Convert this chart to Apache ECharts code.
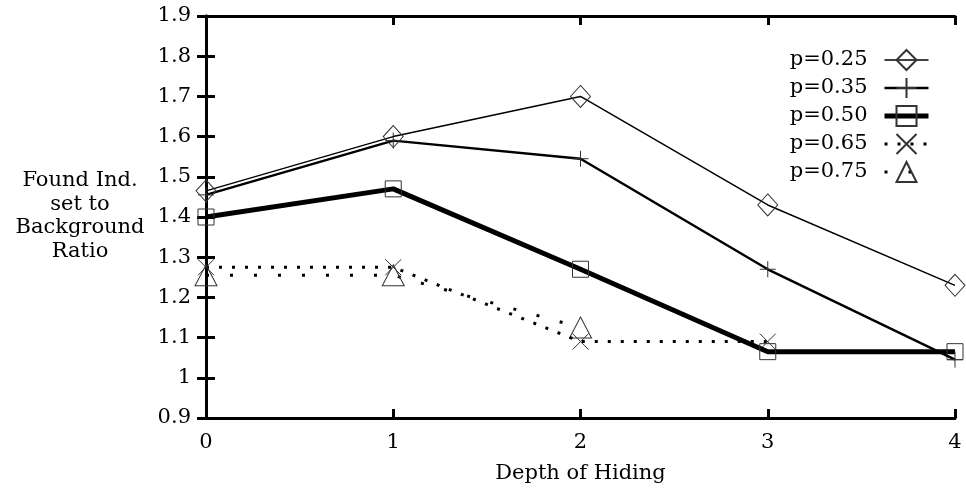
<!DOCTYPE html>
<html>
<head>
<meta charset="utf-8">
<script src="https://cdn.jsdelivr.net/npm/echarts@6/dist/echarts.min.js"></script>
<style>
html,body{margin:0;padding:0;background:#fff;}
#chart{width:966px;height:495px;}
</style>
</head>
<body>
<div id="chart"></div>
<script>
// ---- data ----
const depths = [0, 1, 2, 3, 4];
const seriesNames = ['p=0.25', 'p=0.35', 'p=0.50', 'p=0.65', 'p=0.75'];
const p025 = [1.465, 1.60, 1.70, 1.43, 1.23];
const p035 = [1.455, 1.59, 1.545, 1.27, 1.045];
const p050 = [1.40, 1.47, 1.27, 1.065, 1.065];
const p065 = [1.275, 1.275, 1.09, 1.09];
const p075 = [1.255, 1.255, 1.125];
const yTicks = { min: 0.9, max: 1.9, step: 0.1 };
const xTicks = { min: 0, max: 4, step: 1 };
const yTitleLines = ['Found Ind.', 'set to', 'Background', 'Ratio'];
const xTitle = 'Depth of Hiding';

const FONT = 'DejaVu Serif';
const mk = (vals) => vals.map((v, i) => [depths[i], v]);
const PLUS = 'path://M10,0L10,20M0,10L20,10';
const CROSS = 'path://M0,0L20,20M20,0L0,20';
const markerStyle = { color: 'transparent', borderColor: '#333', borderWidth: 1 };

const defs = [
  { data: p025, symbol: 'diamond', size: [20, 22], lw: 1.5, type: 'solid' },
  { data: p035, symbol: PLUS, size: [16, 16], lw: 2.5, type: 'solid' },
  { data: p050, symbol: 'rect', size: [16, 16], lw: 5, type: 'solid' },
  { data: p065, symbol: CROSS, size: [16, 16], lw: 3, type: [3, 10] },
  { data: p075, symbol: 'triangle', size: [22, 21], lw: 3, type: [3, 21] }
];

const series = defs.map((d, i) => ({
  name: seriesNames[i],
  type: 'line',
  data: mk(d.data),
  symbol: d.symbol,
  symbolSize: d.size,
  showAllSymbol: true,
  lineStyle: { color: '#000', width: d.lw, type: d.type, cap: 'butt' },
  itemStyle: markerStyle,
  emphasis: { disabled: true },
  z: 5 - i
}));

const legendData = defs.map((d, i) => ({
  name: seriesNames[i],
  lineStyle: { color: '#000', width: d.lw, type: d.type, cap: 'butt' }
}));

const axisLine = { show: true, lineStyle: { color: '#000', width: 3 } };
const tick = { show: true, inside: true, length: 9, lineStyle: { color: '#000', width: 3 } };

const chart = echarts.init(document.getElementById('chart'), null, { renderer: 'canvas' });
chart.setOption({
  animation: false,
  backgroundColor: '#fff',
  grid: { left: 206, right: 11, top: 16, bottom: 77 },
  xAxis: [
    { type: 'value', min: xTicks.min, max: xTicks.max, interval: xTicks.step, position: 'bottom',
      axisLine, axisTick: tick, splitLine: { show: false },
      axisLabel: { fontFamily: FONT, fontSize: 21, color: '#000', margin: 14 },
      name: xTitle, nameLocation: 'middle', nameGap: 45,
      nameTextStyle: { fontFamily: FONT, fontSize: 21, color: '#000' } },
    { type: 'value', min: xTicks.min, max: xTicks.max, interval: xTicks.step, position: 'top',
      axisLine, axisTick: tick, splitLine: { show: false }, axisLabel: { show: false } }
  ],
  yAxis: [
    { type: 'value', min: yTicks.min, max: yTicks.max, interval: yTicks.step, position: 'left',
      axisLine, axisTick: tick, splitLine: { show: false },
      axisLabel: { fontFamily: FONT, fontSize: 21, color: '#000', margin: 15,
        formatter: v => (Math.round(v * 10) / 10).toString() } },
    { type: 'value', min: yTicks.min, max: yTicks.max, interval: yTicks.step, position: 'right',
      axisLine, axisTick: tick, splitLine: { show: false }, axisLabel: { show: false } }
  ],
  legend: {
    orient: 'vertical', right: 30, top: 44, align: 'right',
    itemWidth: 44, itemHeight: 25, itemGap: 6,
    textStyle: { fontFamily: FONT, fontSize: 21, color: '#000', padding: [0, 12, 0, 0] },
    data: legendData
  },
  graphic: [{
    type: 'text', x: 80, y: 216,
    style: { text: yTitleLines.join('\n'), fontFamily: FONT, fontSize: 21, fill: '#000',
      textAlign: 'center', textVerticalAlign: 'middle', lineHeight: 23.5 }
  }],
  series
});
</script>
</body>
</html>
